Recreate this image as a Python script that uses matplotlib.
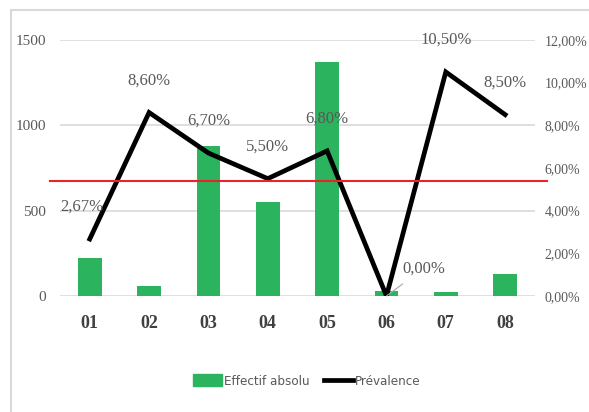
import matplotlib
matplotlib.use('Agg')
import matplotlib.pyplot as plt
from matplotlib.patches import Rectangle, Patch
from matplotlib.lines import Line2D
from matplotlib.ticker import FuncFormatter

# data
categories = ['01', '02', '03', '04', '05', '06', '07', '08']
effectif = [225, 60, 880, 550, 1370, 30, 22, 128]
prevalence = [2.67, 8.60, 6.70, 5.50, 6.80, 0.00, 10.50, 8.50]   # percent
REF_LINE = 5.4   # red reference line, percent

GREEN = '#2bb35e'
GRID = '#d9d9d9'
TXT = '#595959'
SERIF = ['Liberation Serif', 'DejaVu Serif']

fig = plt.figure(figsize=(5.89, 4.12), dpi=100)
ax = fig.add_axes([0.102, 0.2816, 0.806, 0.6214])
ax2 = ax.twinx()

x = list(range(len(categories)))
ax.bar(x, effectif, width=0.4, color=GREEN, zorder=2)
ax.set_ylim(0, 1500)
ax.set_yticks([0, 500, 1000, 1500])
ax.set_xlim(-0.5, len(categories) - 0.5)
ax.set_xticks(x)
ax.set_xticklabels(categories)
ax.yaxis.grid(True, color=GRID, lw=1.2, zorder=0)
ax.set_axisbelow(True)

ax2.plot(x, prevalence, color='black', lw=3.4, zorder=3, solid_joinstyle='miter')
ax2.set_ylim(0, 12)
ax2.set_yticks([0, 2, 4, 6, 8, 10, 12])
ax2.yaxis.set_major_formatter(FuncFormatter(lambda v, p: f'{v:.2f}'.replace('.', ',') + '%'))
# red reference line, slightly wider than the plot area
ax2.axhline(REF_LINE, xmin=-0.022, xmax=1.025, color='#e8242a', lw=1.5, clip_on=False, zorder=4)

for a in (ax, ax2):
    for s in a.spines.values():
        s.set_visible(False)
    a.tick_params(length=0, colors=TXT, labelsize=11)
    for lab in a.get_yticklabels() + a.get_xticklabels():
        lab.set_family(SERIF)
ax.tick_params(axis='y', pad=10)
ax2.tick_params(axis='y', pad=7, labelsize=10)
ax.tick_params(axis='x', pad=14, labelsize=13)
for lab in ax.get_xticklabels():
    lab.set_fontweight('bold')
    lab.set_color('#404040')

# data labels
for i, v in enumerate(prevalence):
    txt = f'{v:.2f}'.replace('.', ',') + '%'
    if v == 0:
        ax2.annotate(txt, xy=(i, v), xytext=(27, 20), textcoords='offset points',
                     ha='center', va='center', color=TXT, fontsize=12, family=SERIF,
                     arrowprops=dict(arrowstyle='-', color='#a6a6a6', lw=0.8,
                                     shrinkA=6, shrinkB=0))
    elif i == 0:
        ax2.annotate(txt, xy=(i, v), xytext=(-6, 23), textcoords='offset points',
                     ha='center', va='center', color=TXT, fontsize=12, family=SERIF)
    else:
        ax2.annotate(txt, xy=(i, v), xytext=(0, 23), textcoords='offset points',
                     ha='center', va='center', color=TXT, fontsize=12, family=SERIF)

# legend
handles = [Patch(color=GREEN), Line2D([], [], color='black', lw=3.4)]
fig.legend(handles, ['Effectif absolu', 'Prévalence'], loc='center', ncol=2,
           bbox_to_anchor=(0.521, 0.075), frameon=False, handlelength=2.2,
           handleheight=1.0, columnspacing=1.1, handletextpad=0.15,
           prop={'family': 'DejaVu Sans', 'stretch': 'condensed', 'size': 9.5},
           labelcolor=TXT)

# outer chart border
fig.patches.append(Rectangle((11 / 589, -0.05), 1.2, 1 - 10 / 412 + 0.05,
                             transform=fig.transFigure, fill=False,
                             edgecolor=GRID, lw=1.5))

fig.savefig('out.png', dpi=100)
